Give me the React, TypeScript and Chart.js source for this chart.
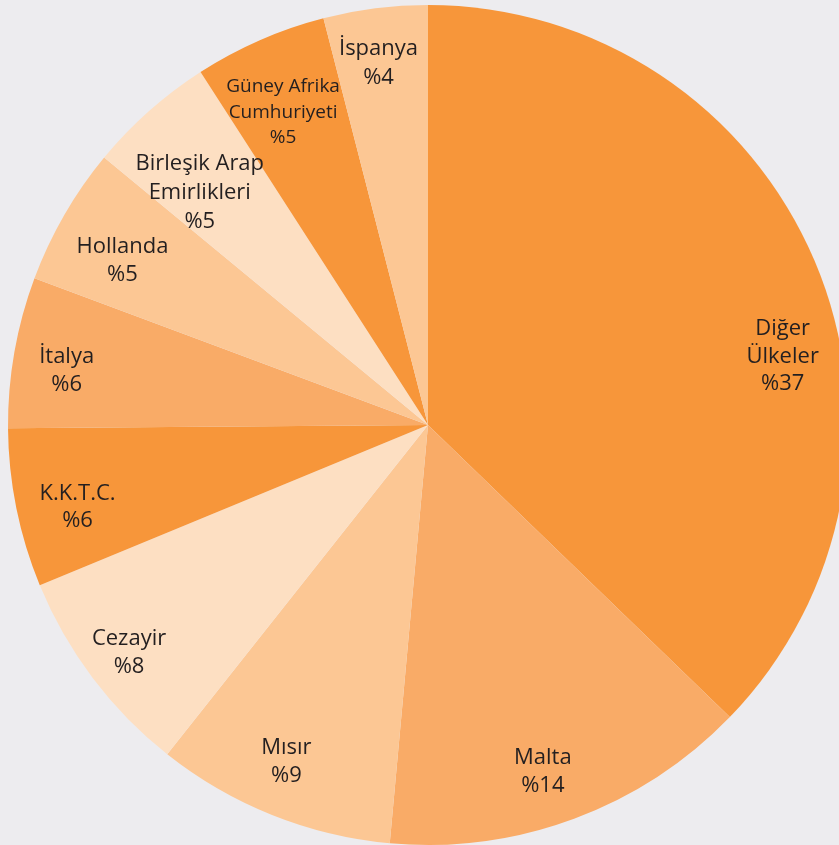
import React, { useEffect, useRef } from "react";
import { Chart, registerables } from "chart.js";

Chart.register(...registerables);

const categories: string[][] = [
  ["Diğer", "Ülkeler"],
  ["Malta"],
  ["Mısır"],
  ["Cezayir"],
  ["K.K.T.C."],
  ["İtalya"],
  ["Hollanda"],
  ["Birleşik Arap", "Emirlikleri"],
  ["Güney Afrika", "Cumhuriyeti"],
  ["İspanya"],
];
const values = [37.2, 14.2, 9.2, 8.1, 6.1, 5.8, 5.3, 4.9, 5.1, 4.0];
const percentLabels = ["%37", "%14", "%9", "%8", "%6", "%6", "%5", "%5", "%5", "%4"];

const DARK = "#F7963A";
const MED = "#F9AB67";
const LIGHT = "#FCC794";
const PALE = "#FDDFC2";
const sliceColors = [DARK, MED, LIGHT, PALE, DARK, MED, LIGHT, PALE, DARK, LIGHT];

// label placement within each slice: fraction of slice angle, fraction of radius
const labelAngleFrac = [0.59, 0.54, 0.53, 0.49, 0.42, 0.43, 0.41, 0.34, 0.43, 0.46];
const labelRadiusFrac = [0.86, 0.87, 0.87, 0.895, 0.857, 0.87, 0.826, 0.776, 0.82, 0.87];
const labelFontSize = [22, 22, 22, 22, 22, 22, 22, 22, 19, 22];
const labelLineHeight = [27.5, 27.5, 27.5, 27.5, 27.5, 27.5, 27.5, 29, 25.5, 29];

const labelPlugin = {
  id: "sliceLabels",
  afterDatasetsDraw(chart: any) {
    const ctx = chart.ctx;
    const meta = chart.getDatasetMeta(0);
    ctx.save();
    ctx.fillStyle = "#231F20";
    ctx.textAlign = "center";
    ctx.textBaseline = "middle";
    meta.data.forEach((arc: any, i: number) => {
      const p = arc.getProps(["x", "y", "startAngle", "endAngle", "outerRadius"], true);
      const a = p.startAngle + labelAngleFrac[i] * (p.endAngle - p.startAngle);
      const r = p.outerRadius * labelRadiusFrac[i];
      const cx = p.x + Math.cos(a) * r;
      const cy = p.y + Math.sin(a) * r;
      const fs = labelFontSize[i];
      const lh = labelLineHeight[i];
      const lines = [...categories[i], percentLabels[i]];
      ctx.font = `${fs}px "Open Sans", sans-serif`;
      const top = cy - ((lines.length - 1) * lh) / 2;
      lines.forEach((ln, j) => ctx.fillText(ln, cx, top + j * lh));
    });
    ctx.restore();
  },
};

export default function App() {
  const ref = useRef<HTMLCanvasElement>(null);
  useEffect(() => {
    if (!ref.current) return;
    const chart = new Chart(ref.current, {
      type: "pie",
      data: {
        labels: categories.map((c) => c.join(" ")),
        datasets: [
          {
            data: values,
            backgroundColor: sliceColors,
            borderWidth: 0,
          },
        ],
      },
      options: {
        responsive: false,
        animation: false,
        devicePixelRatio: 1,
        layout: { padding: { top: 5, bottom: 5, left: 8, right: 8 } },
        plugins: {
          legend: { display: false },
          tooltip: { enabled: false },
        },
      },
      plugins: [labelPlugin],
    });
    return () => chart.destroy();
  }, []);
  return (
    <div
      style={{
        position: "fixed",
        left: 0,
        top: 0,
        width: 839,
        height: 845,
        overflow: "hidden",
        background: "#EDECEF",
      }}
    >
      <canvas ref={ref} width={856} height={850} style={{ display: "block", width: 856, height: 850 }} />
    </div>
  );
}
